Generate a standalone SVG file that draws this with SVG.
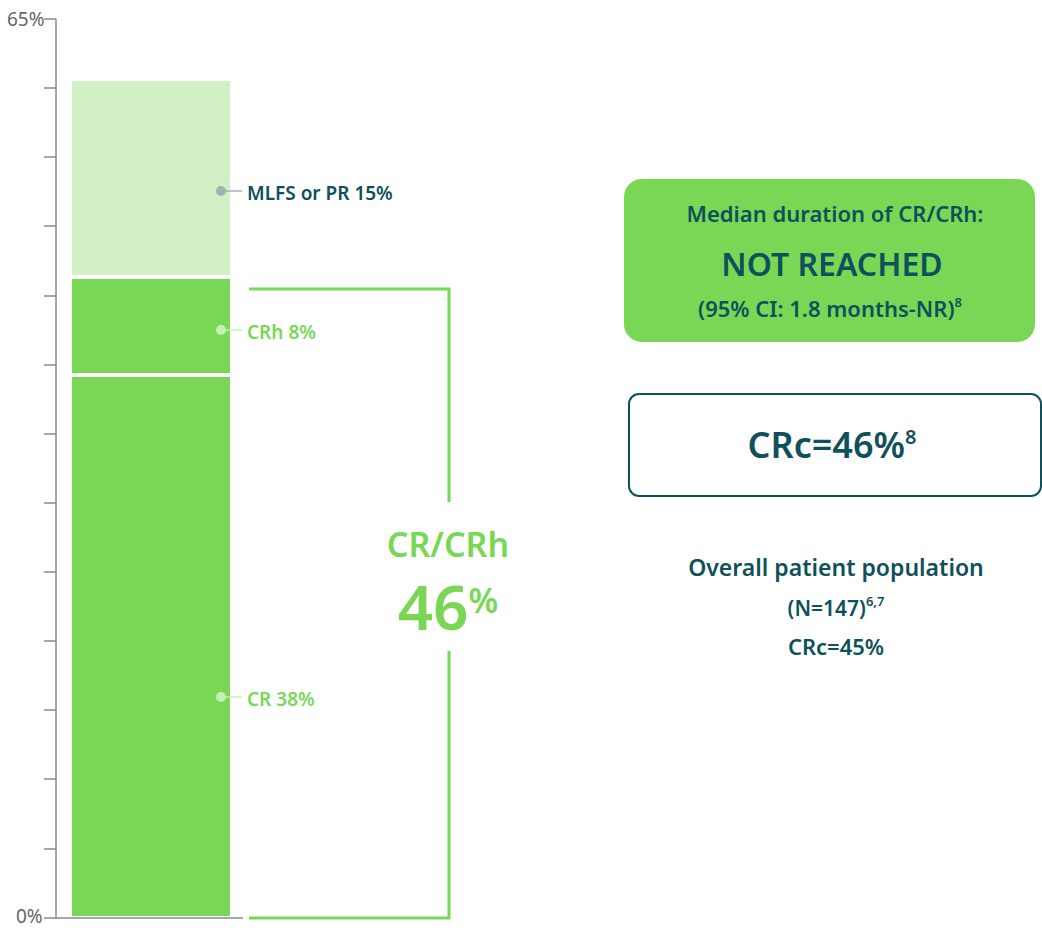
<svg xmlns="http://www.w3.org/2000/svg" width="1042" height="933" viewBox="0 0 1042 933">
<style>
text{font-family:"Noto Sans","Open Sans",sans-serif}
.ax{stroke:#8a8a8a;stroke-width:1.5;fill:none}
.al{fill:#666;font-size:19px}
.dk{fill:#0e515a;font-weight:600}
.gr{fill:#79d755;font-weight:600}
.br{stroke:#79d755;stroke-width:3;fill:none}
</style>
<rect width="1042" height="933" fill="#fff"/>
<g id="axis">
<path class="ax" d="M56 19V918H243M44 19H56M44 88H56M44 157H56M44 226H56M44 296H56M44 365H56M44 434H56M44 503H56M44 572H56M44 641H56M44 710H56M44 779H56M44 849H56M44 918H56"/>
<text class="al" x="7" y="26">65%</text>
<text class="al" x="16" y="923">0%</text>
</g>
<g id="bar-mlfs"><rect x="72" y="81" width="158" height="194" fill="#d2f0c5"/></g>
<g id="bar-crh"><rect x="72" y="279" width="158" height="94" fill="#79d755"/></g>
<g id="bar-cr"><rect x="72" y="377" width="158" height="539" fill="#79d755"/></g>
<g id="connectors">
<line x1="221" y1="191" x2="242" y2="191" stroke="#9fb3b6" stroke-width="1.5"/>
<circle cx="221" cy="191" r="5" fill="#9fb3b6"/>
<line x1="221" y1="330" x2="242" y2="330" stroke="#c9efb9" stroke-width="1.5"/>
<circle cx="221" cy="330" r="5" fill="#c9efb9"/>
<line x1="221" y1="697" x2="242" y2="697" stroke="#c9efb9" stroke-width="1.5"/>
<circle cx="221" cy="697" r="5" fill="#c9efb9"/>
<path class="br" d="M249 289H449V502M449 651V918H249"/>
</g>
<g id="labels">
<text class="dk" x="247" y="200" font-size="19">MLFS or PR 15%</text>
<text class="gr" x="247" y="339" font-size="19">CRh 8%</text>
<text class="gr" x="247" y="706" font-size="19">CR 38%</text>
<text class="gr" x="448" y="557" font-size="34" text-anchor="middle">CR/CRh</text>
<text class="gr" x="448" y="630" font-size="62" font-weight="700" text-anchor="middle">46<tspan font-size="34" dy="-17">%</tspan></text>
</g>
<g id="median-box">
<rect x="624" y="179" width="411" height="163" rx="18" fill="#79d755"/>
<text class="dk" x="835" y="222" font-size="22" font-weight="500" text-anchor="middle">Median duration of CR/CRh:</text>
<text class="dk" x="832" y="276" font-size="32" font-weight="700" text-anchor="middle">NOT REACHED</text>
<text class="dk" x="830" y="317" font-size="22" font-weight="500" text-anchor="middle">(95% CI: 1.8 months-NR)<tspan font-size="13" dy="-10">8</tspan></text>
</g>
<g id="crc-box">
<rect x="629" y="394" width="412" height="102" rx="10" fill="#fff" stroke="#0e515a" stroke-width="2"/>
<text class="dk" x="832" y="458" font-size="36" font-weight="700" text-anchor="middle">CRc=46%<tspan font-size="20" dy="-14">8</tspan></text>
</g>
<g id="overall">
<text class="dk" x="836" y="576" font-size="23" text-anchor="middle">Overall patient population</text>
<text class="dk" x="836" y="616" font-size="21" font-weight="400" text-anchor="middle">(N=147)<tspan font-size="13" dy="-10">6,7</tspan></text>
<text class="dk" x="836" y="655" font-size="22" text-anchor="middle">CRc=45%</text>
</g>
</svg>
